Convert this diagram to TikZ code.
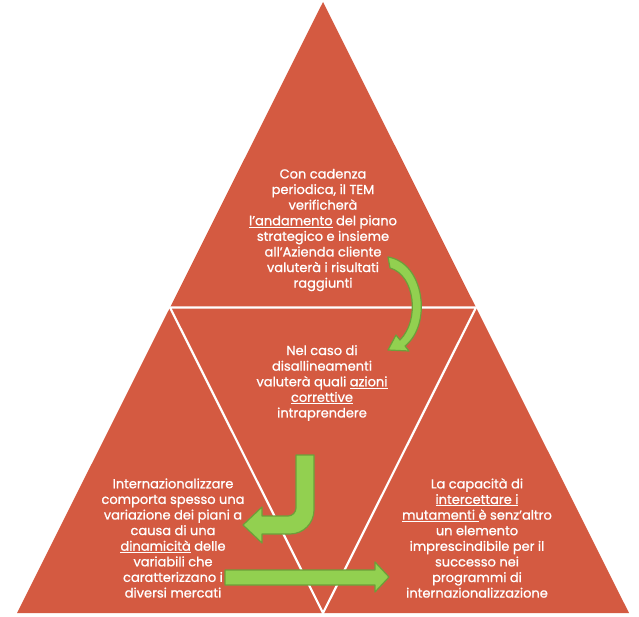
\documentclass[tikz,border=0pt]{standalone}
\usepackage{fontspec}
\setmainfont{Poppins}[FakeBold=1]
\definecolor{tri}{RGB}{212,90,65}
\definecolor{grn}{RGB}{146,208,80}
\definecolor{grnd}{RGB}{108,160,58}
\begin{document}
\begin{tikzpicture}[x=1pt,y=-1pt,
  txt/.style={text=white,align=center,font=\fontsize{13}{15.6}\selectfont,inner sep=0pt},
  sep/.style={draw=white,line width=2.2pt,line join=miter},
  garrow/.style={fill=grn,draw=grnd,line width=1.2pt,line join=round}]
\useasboundingbox (0,0) rectangle (639,617);
% main triangle
\coordinate (T) at (323,2);
\coordinate (BL) at (17,613);
\coordinate (BR) at (629,613);
\coordinate (ML) at (170,307.5);
\coordinate (MR) at (476,307.5);
\coordinate (MB) at (323,613);
\fill[tri] (T) -- (BR) -- (BL) -- cycle;
\draw[sep] (ML) -- (MR) -- (MB) -- cycle;
% texts
\node[txt] (top) at (323,230) {Con cadenza\\periodica, il TEM\\verificherà\\\underline{l’andamento} del piano\\strategico e insieme\\all’Azienda cliente\\valuterà i risultati\\raggiunti};
\node[txt] (mid) at (322,383) {Nel caso di\\disallineamenti\\valuterà quali \underline{azioni}\\\underline{correttive}\\intraprendere};
\node[txt] (left) at (173,538) {Internazionalizzare\\comporta spesso una\\variazione dei piani a\\causa di una\\\underline{dinamicità} delle\\variabili che\\caratterizzano i\\diversi mercati};
\node[txt] (right) at (477,538) {La capacità di\\\underline{intercettare i}\\\underline{mutamenti }è senz’altro\\un elemento\\imprescindibile per il\\successo nei\\programmi di\\internazionalizzazione};
% curved arrow
\draw[garrow] (388,257) .. controls (425,263) and (432,325) .. (405,346) -- (409,351) -- (388,350) -- (396,335) -- (400,340) .. controls (420,320) and (415,275) .. (390,268) -- cycle;
% bent arrow
\draw[garrow] (296,455) -- (314,455) -- (314,510) .. controls (314,523.3) and (303.3,534) .. (290,534) -- (262,534) -- (262,543) -- (243,525) -- (262,507) -- (262,516) -- (288,516) .. controls (292.4,516) and (296,512.4) .. (296,508) -- cycle;
% straight arrow
\draw[garrow] (225,570) -- (375,570) -- (375,562) -- (389,577) -- (375,592) -- (375,585) -- (225,585) -- cycle;
\end{tikzpicture}
\end{document}
